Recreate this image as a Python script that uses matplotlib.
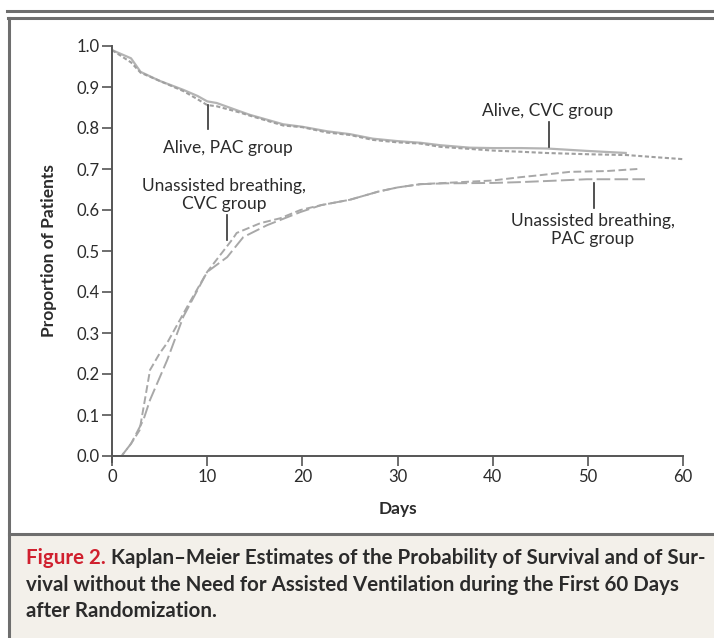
import matplotlib
matplotlib.use('Agg')
import matplotlib.pyplot as plt
from matplotlib.lines import Line2D
from matplotlib.patches import Rectangle

# Kaplan-Meier curves (days, proportion)
alive_cvc_days = [0, 1, 2, 3, 5, 7.5, 9, 10, 11, 13.4, 14.5, 18, 20, 22.6, 25, 27.4, 30, 32.4, 34.5, 37.6, 40, 43, 45.7, 50, 54.1]
alive_cvc_prop = [0.99, 0.98, 0.97, 0.937, 0.915, 0.893, 0.878, 0.865, 0.861, 0.841, 0.832, 0.809, 0.803, 0.792, 0.785, 0.774, 0.768, 0.764, 0.758, 0.752, 0.751, 0.751, 0.750, 0.744, 0.739]

alive_pac_days = [0, 1, 2, 3, 5, 7.5, 9, 10, 11, 13.4, 14.5, 18, 20, 22.6, 25, 27.4, 30, 32.4, 34.5, 37.6, 40, 43, 45.7, 50, 54.1, 57, 60]
alive_pac_prop = [0.99, 0.975, 0.96, 0.935, 0.915, 0.89, 0.87, 0.856, 0.853, 0.838, 0.83, 0.806, 0.802, 0.789, 0.783, 0.771, 0.765, 0.762, 0.754, 0.749, 0.745, 0.742, 0.739, 0.736, 0.734, 0.729, 0.724]

unassist_cvc_days = [0, 1, 2, 2.9, 4, 5, 5.8, 7.9, 10, 11.7, 12.7, 13.1, 15.6, 17.7, 19.8, 22, 25, 28, 30, 32.4, 35, 40, 42.9, 45, 48.1, 52, 55.2]
unassist_cvc_prop = [0, 0.0, 0.03, 0.063, 0.21, 0.25, 0.276, 0.364, 0.449, 0.50, 0.53, 0.544, 0.568, 0.58, 0.60, 0.612, 0.625, 0.645, 0.655, 0.663, 0.666, 0.672, 0.68, 0.685, 0.693, 0.695, 0.70]

unassist_pac_days = [0, 1, 2, 3.3, 4, 5.8, 7.5, 10, 12.1, 13.8, 16.3, 19.8, 22, 25, 28, 30, 32.4, 35, 40, 42.9, 46, 49.9, 53, 56]
unassist_pac_prop = [0, 0.0, 0.03, 0.088, 0.137, 0.234, 0.34, 0.449, 0.485, 0.534, 0.563, 0.595, 0.612, 0.625, 0.645, 0.655, 0.663, 0.665, 0.666, 0.668, 0.671, 0.675, 0.675, 0.675]

x_ticks = [0, 10, 20, 30, 40, 50, 60]
y_ticks = [0.0, 0.1, 0.2, 0.3, 0.4, 0.5, 0.6, 0.7, 0.8, 0.9, 1.0]

caption_label = 'Figure 2.'
caption_lines = [
    ' Kaplan\u2013Meier Estimates of the Probability of Survival and of Sur-',
    'vival without the Need for Assisted Ventilation during the First 60 Days',
    'after Randomization.',
]

W, H = 714, 638
FONT = 'Lato'
axis_col = '#555555'
text_col = '#2b2b2b'

fig = plt.figure(figsize=(W / 100, H / 100), dpi=100)
fig.patch.set_facecolor('white')


# pixel coords -> figure fraction
def fx(px):
    return px / W


def fy(py):
    return 1 - py / H


# frame around the figure panel
fig.add_artist(Rectangle((fx(10), 0), 1 - fx(10), fy(534), transform=fig.transFigure,
                         facecolor='#f3f0ea', edgecolor='none'))
fig.add_artist(Line2D([fx(7), 1], [fy(11), fy(11)], color='#6e6e6e', lw=2.2))
fig.add_artist(Line2D([fx(8), 1], [fy(17.5), fy(17.5)], color='#6e6e6e', lw=2.2))
fig.add_artist(Line2D([fx(9), fx(9)], [0, fy(17.5)], color='#6e6e6e', lw=2.2))
fig.add_artist(Line2D([fx(9), 1], [fy(534), fy(534)], color='#6e6e6e', lw=2.2))

ax = fig.add_axes([fx(112), fy(456), fx(683) - fx(112), fy(46) - fy(456)])
ax.set_xlim(0, 60)
ax.set_ylim(0, 1.0)

ax.plot(alive_cvc_days, alive_cvc_prop, color='#b4b4b4', lw=1.6, solid_capstyle='butt')
ax.plot(alive_pac_days, alive_pac_prop, color='#a0a0a0', lw=1.5, linestyle=(0, (2.0, 1.2)))
ax.plot(unassist_cvc_days, unassist_cvc_prop, color='#a8a8a8', lw=1.4, linestyle=(0, (4.0, 1.8)))
ax.plot(unassist_pac_days, unassist_pac_prop, color='#a8a8a8', lw=1.4, linestyle=(0, (7.0, 2.2)))

for s in ['top', 'right']:
    ax.spines[s].set_visible(False)
for s in ['left', 'bottom']:
    ax.spines[s].set_color(axis_col)
    ax.spines[s].set_linewidth(1.4)
ax.spines['left'].set_bounds(-0.015, 1.0)
ax.spines['left'].set_clip_on(False)

ax.set_xticks(x_ticks)
ax.set_yticks(y_ticks)
ax.set_xticklabels([str(t) for t in x_ticks])
ax.set_yticklabels([f'{t:.1f}' for t in y_ticks])
ax.tick_params(direction='out', length=7, width=1.2, color=axis_col, labelcolor=text_col,
               labelsize=12, pad=2)
for lbl in ax.get_xticklabels() + ax.get_yticklabels():
    lbl.set_fontfamily(FONT)

ax.set_xlabel('Days', fontsize=12.5, fontweight='bold', family=FONT, color=text_col, labelpad=12)
ax.set_ylabel('Proportion of Patients', fontsize=12.5, fontweight='bold', family=FONT,
              color=text_col, labelpad=14)

# annotations with pointer lines
ann = dict(fontsize=12.5, family=FONT, color=text_col, ha='center', va='center', linespacing=1.2)
ax.text(12.2, 0.751, 'Alive, PAC group', **ann)
ax.plot([10.1, 10.1], [0.856, 0.797], color='#333333', lw=1.2)
ax.text(45.8, 0.841, 'Alive, CVC group', **ann)
ax.plot([45.9, 45.9], [0.815, 0.754], color='#333333', lw=1.2)
ax.text(11.8, 0.637, 'Unassisted breathing,\nCVC group', **ann)
ax.plot([12.1, 12.1], [0.588, 0.527], color='#333333', lw=1.2)
ax.text(50.5, 0.551, 'Unassisted breathing,\nPAC group', **ann)
ax.plot([50.6, 50.6], [0.666, 0.605], color='#333333', lw=1.2)

# caption: red label then dark text on the same line
cap = dict(fontsize=14.8, fontweight='bold', family=FONT, va='baseline', ha='left')
t1 = fig.text(fx(26), fy(564), caption_label, color='#d0202e', **cap)
fig.canvas.draw()
bb = t1.get_window_extent(renderer=fig.canvas.get_renderer())
fig.text(bb.x1 / W, fy(564), caption_lines[0], color=text_col, **cap)
fig.text(fx(26), fy(591), caption_lines[1], color=text_col, **cap)
fig.text(fx(26), fy(617), caption_lines[2], color=text_col, **cap)

fig.savefig('out.png', dpi=100)
